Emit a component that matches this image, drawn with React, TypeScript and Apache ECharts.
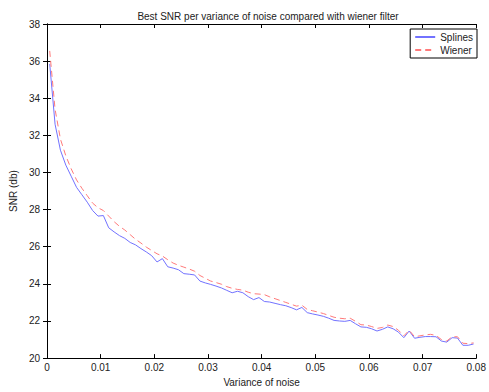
import React, { useEffect, useRef } from "react";
import * as echarts from "echarts";

const xValues: number[] = Array.from({ length: 80 }, (_, i) => +(0.0005 + 0.001 * i).toFixed(4));

const splines: number[] = [
  35.85, 32.6, 31.2, 30.4, 29.8, 29.2, 28.8, 28.4, 27.95, 27.65,
  27.68, 27.02, 26.8, 26.6, 26.45, 26.23, 26.1, 25.9, 25.72, 25.52,
  25.18, 25.36, 24.92, 24.85, 24.76, 24.55, 24.52, 24.48, 24.15, 24.05,
  23.97, 23.88, 23.78, 23.65, 23.52, 23.6, 23.52, 23.31, 23.15, 23.26,
  23.05, 23.02, 22.95, 22.88, 22.82, 22.72, 22.6, 22.73, 22.45, 22.38,
  22.32, 22.25, 22.15, 22.03, 22.0, 21.98, 22.03, 21.85, 21.68, 21.66,
  21.58, 21.46, 21.55, 21.68, 21.58, 21.4, 21.1, 21.46, 21.07, 21.12,
  21.16, 21.16, 21.15, 20.92, 20.86, 21.1, 21.08, 20.69, 20.69, 20.76,
];

const wiener: number[] = [
  36.55, 33.4, 31.8, 30.9, 30.2, 29.6, 29.15, 28.75, 28.35, 28.1,
  27.95, 27.65, 27.35, 27.1, 26.9, 26.65, 26.4, 26.2, 25.98, 25.8,
  25.62, 25.5, 25.3, 25.12, 25.0, 24.9, 24.8, 24.68, 24.45, 24.3,
  24.15, 24.07, 23.98, 23.85, 23.76, 23.7, 23.66, 23.55, 23.47, 23.45,
  23.42, 23.3, 23.2, 23.1, 23.0, 22.9, 22.8, 22.85, 22.62, 22.55,
  22.48, 22.4, 22.3, 22.2, 22.15, 22.12, 22.15, 21.98, 21.8, 21.78,
  21.7, 21.6, 21.65, 21.78, 21.7, 21.5, 21.2, 21.5, 21.15, 21.2,
  21.25, 21.28, 21.22, 21.0, 20.92, 21.15, 21.15, 20.8, 20.78, 20.82,
];

const seriesNames = ["Splines", "Wiener"];
const titleText = "Best SNR per variance of noise compared with wiener filter";
const xName = "Variance of noise";
const yName = "SNR (db)";

const FONT = "Liberation Sans, Arial, Helvetica, sans-serif";

export default function App() {
  const ref = useRef<HTMLDivElement>(null);
  useEffect(() => {
    if (!ref.current) return;
    const chart = echarts.init(ref.current, undefined, { renderer: "svg" });
    const axisLine = { show: true, lineStyle: { color: "#000", width: 1 } };
    const tick = { show: true, inside: true, length: 4, lineStyle: { color: "#000", width: 1 } };
    const label = { color: "#222", fontSize: 10, fontFamily: FONT };
    chart.setOption({
      animation: false,
      backgroundColor: "#fff",
      title: {
        text: titleText,
        left: 263,
        top: 6,
        textAlign: "center",
        textStyle: { fontSize: 10, fontWeight: "normal", color: "#222", fontFamily: FONT },
      },
      legend: {
        data: seriesNames,
        orient: "vertical",
        right: 12,
        top: 29,
        itemWidth: 20,
        itemHeight: 8,
        itemGap: 3,
        padding: [3, 4, 3, 4],
        borderColor: "#000",
        borderWidth: 1,
        backgroundColor: "#fff",
        itemStyle: { opacity: 0 },
        textStyle: { fontSize: 10, color: "#222", fontFamily: FONT },
      },
      grid: { left: 44, right: 9, top: 24, bottom: 25, containLabel: false },
      xAxis: [
        {
          type: "value",
          min: 0,
          max: 0.08,
          interval: 0.01,
          name: xName,
          nameLocation: "middle",
          nameGap: 14,
          nameTextStyle: { fontSize: 10, color: "#222", fontFamily: FONT },
          axisLine,
          axisTick: tick,
          axisLabel: { ...label, margin: 4, formatter: (v: number) => String(+v.toFixed(2)) },
          splitLine: { show: false },
        },
        {
          type: "value",
          position: "top",
          min: 0,
          max: 0.08,
          interval: 0.01,
          axisLine,
          axisTick: tick,
          axisLabel: { show: false },
          splitLine: { show: false },
        },
      ],
      yAxis: [
        {
          type: "value",
          min: 20,
          max: 38,
          interval: 2,
          name: yName,
          nameLocation: "middle",
          nameGap: 19,
          nameRotate: 90,
          nameTextStyle: { fontSize: 10, color: "#222", fontFamily: FONT },
          axisLine,
          axisTick: tick,
          axisLabel: { ...label, margin: 7 },
          splitLine: { show: false },
        },
        {
          type: "value",
          position: "right",
          min: 20,
          max: 38,
          interval: 2,
          axisLine,
          axisTick: tick,
          axisLabel: { show: false },
          splitLine: { show: false },
        },
      ],
      series: [
        {
          name: seriesNames[0],
          type: "line",
          data: xValues.map((x, i) => [x, splines[i]]),
          showSymbol: false,
          symbol: "none",
          lineStyle: { color: "#7272ff", width: 1 },
          itemStyle: { color: "#7272ff" },
        },
        {
          name: seriesNames[1],
          type: "line",
          data: xValues.map((x, i) => [x, wiener[i]]),
          showSymbol: false,
          symbol: "none",
          lineStyle: { color: "#ff7a7a", width: 1, type: [6, 4] },
          itemStyle: { color: "#ff7a7a" },
        },
      ],
    });
    return () => chart.dispose();
  }, []);
  return <div ref={ref} style={{ width: 489, height: 392, position: "absolute", left: 0, top: 0 }} />;
}
